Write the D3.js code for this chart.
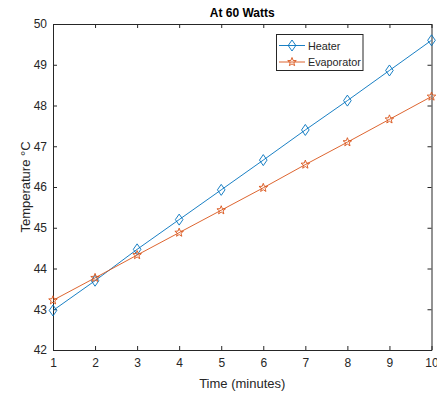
<!DOCTYPE html>
<html lang="en">
  <head>
    <meta charset="utf-8">
    <title>At 60 Watts</title>
    <script src="https://cdn.jsdelivr.net/npm/d3@7"></script>
    <style>
      body { margin: 0; background: #fff; }
      text { font-family: "Liberation Sans", Arial, sans-serif; }
      .axis path, .axis line { stroke: #262626; }
      .axis text { fill: #262626; font-size: 12px; }
    </style>
  </head>
  <body>
    <script>
      // data
      var minutes = [1, 2, 3, 4, 5, 6, 7, 8, 9, 10];
      var heater = [42.97, 43.70, 44.47, 45.20, 45.93, 46.66, 47.40, 48.12, 48.86, 49.60];
      var evaporator = [43.22, 43.77, 44.33, 44.88, 45.43, 45.98, 46.55, 47.10, 47.66, 48.22];
      var xTicks = [1, 2, 3, 4, 5, 6, 7, 8, 9, 10];
      var yTicks = [42, 43, 44, 45, 46, 47, 48, 49, 50];
      var seriesNames = ["Heater", "Evaporator"];

      var w = 437, h = 396;
      var padL = 53, padR = 431.5, padT = 24, padB = 350;

      var svg = d3.select("body").append("svg")
        .attr("width", w).attr("height", h);

      var x = d3.scaleLinear().domain([1, 10]).range([padL, padR]);
      var y = d3.scaleLinear().domain([42, 50]).range([padB, padT]);

      var tick = 4;

      //axes, ticks pointing in like matlab
      svg.append("g").attr("class", "axis")
        .attr("transform", "translate(0," + padB + ")")
        .call(d3.axisBottom(x).tickValues(xTicks).tickSizeInner(-tick).tickSizeOuter(0).tickPadding(8));
      svg.append("g").attr("class", "axis")
        .attr("transform", "translate(0," + padT + ")")
        .call(d3.axisTop(x).tickValues(xTicks).tickSizeInner(-tick).tickSizeOuter(0).tickFormat(""));
      svg.append("g").attr("class", "axis")
        .attr("transform", "translate(" + padL + ",0)")
        .call(d3.axisLeft(y).tickValues(yTicks).tickSizeInner(-tick).tickSizeOuter(0).tickPadding(6));
      svg.append("g").attr("class", "axis")
        .attr("transform", "translate(" + padR + ",0)")
        .call(d3.axisRight(y).tickValues(yTicks).tickSizeInner(-tick).tickSizeOuter(0).tickFormat(""));

      svg.selectAll(".axis").attr("font-family", null).attr("font-size", null);

      var series = [
        { name: seriesNames[0], values: heater, color: "#0072BD", marker: "diamond" },
        { name: seriesNames[1], values: evaporator, color: "#D95319", marker: "star" }
      ];

      function markerPath(type) {
        if (type === "diamond") return "M0,-5.5L3.8,0L0,5.5L-3.8,0Z";
        var pts = [];
        for (var i = 0; i < 10; i++) {
          var r = i % 2 === 0 ? 4.5 : 1.9;
          var a = -Math.PI / 2 + i * Math.PI / 5;
          pts.push([r * Math.cos(a), r * Math.sin(a)]);
        }
        return "M" + pts.map(p => p[0].toFixed(2) + "," + p[1].toFixed(2)).join("L") + "Z";
      }

      var line = d3.line()
        .x((d, i) => x(minutes[i]))
        .y(d => y(d));

      series.forEach(function(s) {
        svg.append("path")
          .datum(s.values)
          .attr("fill", "none")
          .attr("stroke", s.color)
          .attr("stroke-width", 0.9)
          .attr("d", line);
        svg.selectAll(null)
          .data(s.values)
          .enter().append("path")
          .attr("transform", (d, i) => "translate(" + x(minutes[i]) + "," + y(d) + ")")
          .attr("d", markerPath(s.marker))
          .attr("fill", "none")
          .attr("stroke", s.color)
          .attr("stroke-width", 0.9);
      });

      //legend
      var lg = svg.append("g");
      lg.append("rect")
        .attr("x", 276.5).attr("y", 34.5).attr("width", 86.5).attr("height", 36)
        .attr("fill", "#fff").attr("stroke", "#262626").attr("stroke-width", 1);
      series.forEach(function(s, i) {
        var ly = 45.5 + i * 16.5;
        lg.append("line")
          .attr("x1", 279).attr("x2", 305).attr("y1", ly).attr("y2", ly)
          .attr("stroke", s.color).attr("stroke-width", 0.9);
        lg.append("path")
          .attr("transform", "translate(292," + ly + ")")
          .attr("d", markerPath(s.marker))
          .attr("fill", "none").attr("stroke", s.color).attr("stroke-width", 0.9);
        lg.append("text")
          .attr("x", 308).attr("y", ly + 4)
          .attr("font-size", 10.8).attr("fill", "#262626")
          .text(s.name);
      });

      //title and labels
      svg.append("text")
        .attr("x", (padL + padR) / 2).attr("y", 17)
        .attr("text-anchor", "middle")
        .attr("font-size", 12).attr("font-weight", "bold").attr("fill", "#000")
        .text("At 60 Watts");
      svg.append("text")
        .attr("x", (padL + padR) / 2).attr("y", 388)
        .attr("text-anchor", "middle")
        .attr("font-size", 13).attr("fill", "#262626")
        .text("Time (minutes)");
      svg.append("text")
        .attr("transform", "translate(30," + ((padT + padB) / 2) + ") rotate(-90)")
        .attr("text-anchor", "middle")
        .attr("font-size", 13).attr("fill", "#262626")
        .text("Temperature °C");
    </script>
  </body>
</html>
